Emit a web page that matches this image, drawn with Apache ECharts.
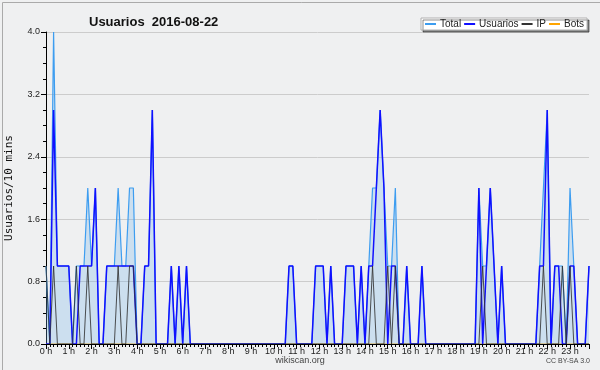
<!DOCTYPE html>
<html>
<head>
<meta charset="utf-8">
<script src="https://cdn.jsdelivr.net/npm/echarts@6/dist/echarts.min.js"></script>
<style>
html,body{margin:0;padding:0;background:#eff0f1;}
#c{width:600px;height:370px;}
</style>
</head>
<body>
<div id="c"></div>
<script>
// 10-minute slots, 144 per day (rows of 12 = 2 hours)
var hourLabels = ['0 h','1 h','2 h','3 h','4 h','5 h','6 h','7 h','8 h','9 h','10 h','11 h',
  '12 h','13 h','14 h','15 h','16 h','17 h','18 h','19 h','20 h','21 h','22 h','23 h'];
var yTicks = [0, 0.8, 1.6, 2.4, 3.2, 4.0];

var total = [
  1,0,4,1,1,1,1,0,1,1,1,2,
  1,2,0,0,1,1,1,2,1,1,2,2,
  0,0,1,1,3,0,0,0,0,1,0,1,
  0,1,0,0,0,0,0,0,0,0,0,0,
  0,0,0,0,0,0,0,0,0,0,0,0,
  0,0,0,0,1,1,0,0,0,0,0,1,
  1,1,0,1,0,0,0,1,1,1,0,1,
  0,1,2,2,3,2,1,1,2,0,0,1,
  0,0,0,1,0,0,0,0,0,0,0,0,
  0,0,0,0,0,0,2,1,1,2,1,0,
  1,0,0,0,0,0,0,0,0,0,1,2,
  3,0,1,1,1,0,2,1,0,0,0,1
];
var usuarios = [
  0,0,3,1,1,1,1,0,0,1,1,1,
  1,2,0,0,1,1,1,1,1,1,1,1,
  0,0,1,1,3,0,0,0,0,1,0,1,
  0,1,0,0,0,0,0,0,0,0,0,0,
  0,0,0,0,0,0,0,0,0,0,0,0,
  0,0,0,0,1,1,0,0,0,0,0,1,
  1,1,0,1,0,0,0,1,1,1,0,1,
  0,1,1,2,3,2,0,1,1,0,0,1,
  0,0,0,1,0,0,0,0,0,0,0,0,
  0,0,0,0,0,0,2,0,1,2,1,0,
  1,0,0,0,0,0,0,0,0,0,1,1,
  3,0,1,1,0,0,1,1,0,0,0,1
];
var ip = [
  1,0,1,0,0,0,0,0,1,0,0,1,
  0,0,0,0,0,0,0,1,0,0,1,1,
  0,0,0,0,0,0,0,0,0,0,0,0,
  0,0,0,0,0,0,0,0,0,0,0,0,
  0,0,0,0,0,0,0,0,0,0,0,0,
  0,0,0,0,0,0,0,0,0,0,0,0,
  0,0,0,0,0,0,0,0,0,0,0,0,
  0,0,1,0,0,0,1,0,1,0,0,0,
  0,0,0,0,0,0,0,0,0,0,0,0,
  0,0,0,0,0,0,0,1,0,0,0,0,
  0,0,0,0,0,0,0,0,0,0,0,1,
  0,0,0,0,1,0,1,0,0,0,0,0
];
var bots = [
  0,0,0,0,0,0,0,0,0,0,0,0,
  0,0,0,0,0,0,0,0,0,0,0,0,
  0,0,0,0,0,0,0,0,0,0,0,0,
  0,0,0,0,0,0,0,0,0,0,0,0,
  0,0,0,0,0,0,0,0,0,0,0,0,
  0,0,0,0,0,0,0,0,0,0,0,0,
  0,0,0,0,0,0,0,0,0,0,0,0,
  0,0,0,0,0,0,0,0,0,0,0,0,
  0,0,0,0,0,0,0,0,0,0,0,0,
  0,0,0,0,0,0,0,0,0,0,0,0,
  0,0,0,0,0,0,0,0,0,0,0,0,
  0,0,0,0,0,0,0,0,0,0,0,0
];

function pairs(arr){ return arr.map(function(v,i){ return [i, v]; }); }

var chart = echarts.init(document.getElementById('c'), null, {renderer:'canvas'});
var F = 'Liberation Sans, Arial, sans-serif';
chart.setOption({
  backgroundColor: '#eff0f1',
  animation: false,
  title: {
    text: 'Usuarios  2016-08-22',
    left: 84, top: 11,
    textStyle: {fontFamily: F, fontSize: 13, fontWeight: 'bold', color: '#111'}
  },
  legend: {
    left: 421, top: 18,
    padding: [1, 3, 1, 4],
    itemGap: 3,
    itemWidth: 11, itemHeight: 2,
    icon: 'rect',
    backgroundColor: '#ffffff',
    borderColor: '#b0b0b0', borderWidth: 1,
    shadowColor: 'rgba(0,0,0,0.45)', shadowOffsetX: 2, shadowOffsetY: 2, shadowBlur: 0,
    textStyle: {fontFamily: F, fontSize: 10, color: '#222', padding: [0,0,0,-1]},
    data: ['Total', 'Usuarios', 'IP', 'Bots']
  },
  grid: {left: 46, right: 11, top: 32, bottom: 26, outerBoundsMode: 'none', containLabel: false},
  xAxis: {
    type: 'value', min: 0, max: 143, interval: 6, z: 10,
    axisLine: {show: true, lineStyle: {color: '#000', width: 1}},
    axisTick: {show: true, length: 5, lineStyle: {color: '#000'}},
    minorTick: {show: true, splitNumber: 6, length: 3, lineStyle: {color: '#000'}},
    splitLine: {show: false},
    axisLabel: {
      fontFamily: F, fontSize: 9, color: '#222', margin: 3,
      formatter: function(v){ return (v % 6 === 0) ? hourLabels[v/6] : ''; }
    }
  },
  yAxis: {
    type: 'value', min: yTicks[0], max: yTicks[yTicks.length-1], interval: 0.8,
    name: 'Usuarios/10 mins', nameLocation: 'middle', nameGap: 31, nameRotate: 90,
    nameTextStyle: {fontFamily: 'DejaVu Sans Mono, monospace', fontSize: 11, color: '#111'},
    axisLine: {show: true, lineStyle: {color: '#000', width: 1}},
    axisTick: {show: true, length: 5, lineStyle: {color: '#000'}},
    minorTick: {show: true, splitNumber: 4, length: 3, lineStyle: {color: '#000'}},
    splitLine: {show: true, lineStyle: {color: '#cccccc', width: 1}},
    axisLabel: {fontFamily: F, fontSize: 9, color: '#222', margin: 6,
      formatter: function(v){ return v.toFixed(1); }}
  },
  series: [
    {name: 'Total', type: 'line', data: pairs(total), showSymbol: false, z: 2,
     lineStyle: {color: '#3d9df0', width: 1.2}, itemStyle: {color: '#3d9df0'},
     areaStyle: {color: 'rgba(110,178,235,0.38)'}},
    {name: 'Usuarios', type: 'line', data: pairs(usuarios), showSymbol: false, z: 3,
     lineStyle: {color: '#1010ff', width: 1.5}, itemStyle: {color: '#1010ff'}},
    {name: 'IP', type: 'line', data: pairs(ip), showSymbol: false, z: 4,
     lineStyle: {color: '#333333', width: 1, opacity: 0.85}, itemStyle: {color: '#333333'}},
    {name: 'Bots', type: 'line', data: pairs(bots), showSymbol: false, z: 1,
     lineStyle: {color: '#ffa500', width: 1}, itemStyle: {color: '#ffa500'}}
  ],
  graphic: [
    {type: 'rect', left: 0, top: 0, z: -1, silent: true,
     shape: {x: 0.5, y: 0.5, width: 599, height: 369},
     style: {fill: 'none', stroke: '#aaaaaa', lineWidth: 1}},
    {type: 'text', left: 'center', top: 356,
     style: {text: 'wikiscan.org', fontFamily: F, fontSize: 9, fill: '#444'}},
    {type: 'text', right: 10, top: 358,
     style: {text: 'CC BY-SA 3.0', fontFamily: F, fontSize: 7, fill: '#444'}}
  ]
});
</script>
</body>
</html>
